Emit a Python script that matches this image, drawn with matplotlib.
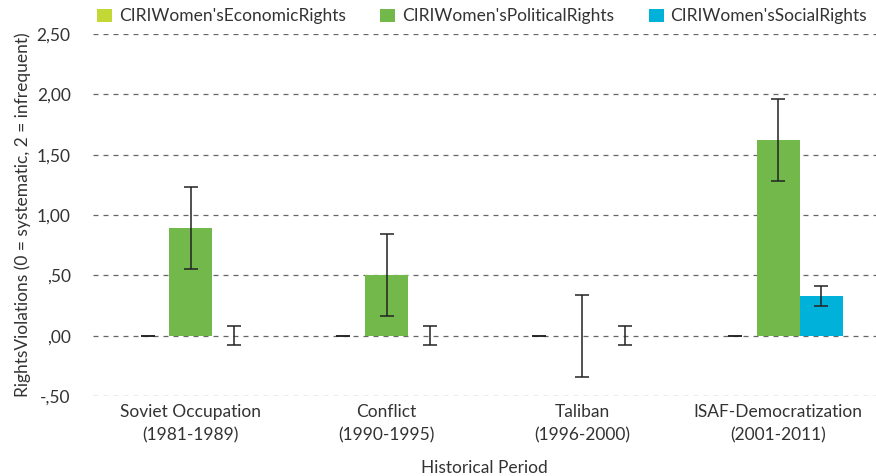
import numpy as np
import matplotlib.pyplot as plt
from matplotlib.ticker import FuncFormatter

periods = ['Soviet Occupation\n(1981-1989)', 'Conflict\n(1990-1995)',
           'Taliban\n(1996-2000)', 'ISAF-Democratization\n(2001-2011)']
series = ["CIRIWomen'sEconomicRights", "CIRIWomen'sPoliticalRights", "CIRIWomen'sSocialRights"]
economic = [0.0, 0.0, 0.0, 0.0]
economic_err = [0.0, 0.0, 0.0, 0.0]
political = [0.89, 0.50, 0.0, 1.62]
political_err = [0.34, 0.34, 0.34, 0.34]
social = [0.0, 0.0, 0.0, 0.33]
social_err = [0.08, 0.08, 0.08, 0.08]
colors = ['#c3d834', '#72b84b', '#00b1d9']

plt.rcParams['font.family'] = ['Lato', 'DejaVu Sans']

fig = plt.figure(figsize=(8.76, 4.76), dpi=100)
ax = fig.add_axes([0.106, 0.168, 0.894, 0.7606])

x = np.arange(len(periods))
w = 0.22
vals = [economic, political, social]
errs = [economic_err, political_err, social_err]
for i, (v, e, c, name) in enumerate(zip(vals, errs, colors, series)):
    pos = x + (i - 1) * w
    ax.bar(pos, v, width=w, color=c, label=name, zorder=3)
    ax.errorbar(pos, v, yerr=e, fmt='none', ecolor='#222222', elinewidth=1.1,
                capsize=5, capthick=1.1, zorder=4)

ax.set_xlim(-0.5, len(periods) - 0.5)
ax.set_ylim(-0.5, 2.5)
ax.set_yticks([-0.5, 0, 0.5, 1.0, 1.5, 2.0, 2.5])

def fmt(v, pos):
    s = f'{v:.2f}'.replace('.', ',')
    if s.startswith('0,'):
        s = s[1:]
    elif s.startswith('-0,'):
        s = '-' + s[2:]
    return s

fs = 12.5
ax.yaxis.set_major_formatter(FuncFormatter(fmt))
ax.set_xticks(x)
ax.set_xticklabels(periods, fontsize=fs, color='#333333', linespacing=1.5)
ax.tick_params(axis='both', length=0, labelsize=fs, labelcolor='#333333')
ax.tick_params(axis='y', pad=16)
ax.tick_params(axis='x', pad=6)
ax.grid(axis='y', linestyle=(0, (4, 4)), color='#666666', linewidth=0.9, zorder=0)
for s in ax.spines.values():
    s.set_visible(False)

ax.set_xlabel('Historical Period', fontsize=fs, color='#333333', labelpad=12)
ax.set_ylabel('RightsViolations (0 = systematic, 2 = infrequent)', fontsize=fs,
              color='#333333', labelpad=4)

fig.legend(loc='upper left', bbox_to_anchor=(0.093, 1.015), ncol=3, frameon=False,
           fontsize=fs, handlelength=0.85, handleheight=0.85, handletextpad=0.4,
           columnspacing=2.0, labelcolor='#333333')

fig.savefig('out.png', dpi=100)
